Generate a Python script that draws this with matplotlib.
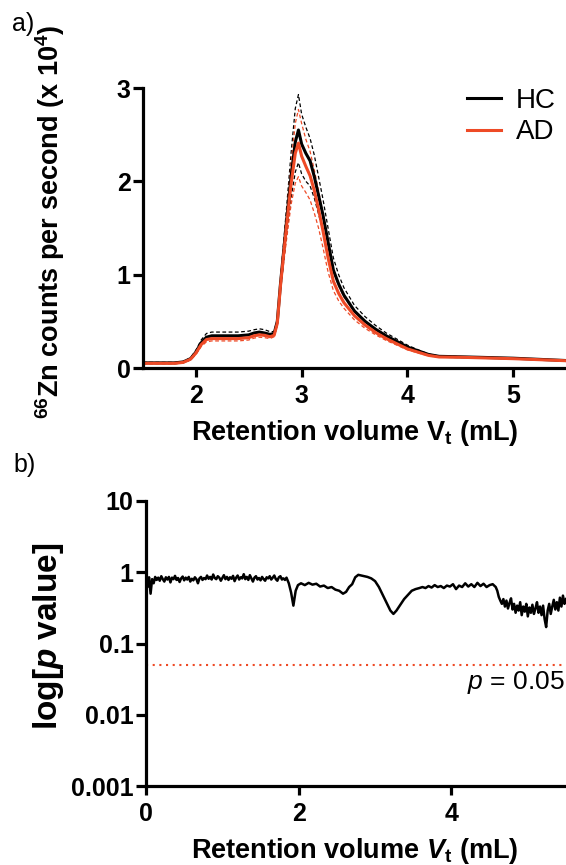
import matplotlib
matplotlib.use("Agg")
import matplotlib.pyplot as plt
from matplotlib.ticker import FixedLocator, NullLocator, FixedFormatter

plt.rcParams['font.family'] = ['Liberation Sans', 'DejaVu Sans']
plt.rcParams['mathtext.fontset'] = 'custom'
plt.rcParams['mathtext.rm'] = 'Liberation Sans'
plt.rcParams['mathtext.it'] = 'Liberation Sans:italic'
plt.rcParams['mathtext.bf'] = 'Liberation Sans:bold'
try:
    plt.rcParams['mathtext.bfit'] = 'Liberation Sans:italic:bold'
    HAS_BFIT = True
except KeyError:
    HAS_BFIT = False

RED = '#EE4A26'

# ---------------- Panel a data ----------------
vol_a = [1.5, 1.8, 1.88, 1.95, 2.0, 2.05, 2.1, 2.15, 2.25, 2.4, 2.5, 2.55, 2.6, 2.65,
         2.7, 2.74, 2.77, 2.8, 2.83, 2.86, 2.9, 2.94, 2.97, 3.0, 3.04, 3.08, 3.12,
         3.16, 3.2, 3.25, 3.3, 3.35, 3.4, 3.5, 3.6, 3.7, 3.8, 3.9, 4.0, 4.1, 4.2,
         4.3, 4.5, 5.0, 5.5]
hc_mean = [0.055, 0.055, 0.065, 0.10, 0.17, 0.27, 0.33, 0.345, 0.345, 0.345, 0.355,
           0.375, 0.385, 0.375, 0.36, 0.37, 0.50, 0.90, 1.25, 1.60, 2.05, 2.42, 2.55,
           2.40, 2.30, 2.22, 2.05, 1.85, 1.65, 1.35, 1.05, 0.90, 0.78, 0.61, 0.50,
           0.415, 0.345, 0.285, 0.225, 0.185, 0.145, 0.125, 0.12, 0.105, 0.08]
hc_upper = [0.06, 0.06, 0.07, 0.11, 0.19, 0.30, 0.37, 0.385, 0.385, 0.385, 0.395,
            0.41, 0.42, 0.41, 0.39, 0.39, 0.52, 0.95, 1.35, 1.75, 2.30, 2.78, 2.93,
            2.72, 2.58, 2.46, 2.28, 2.05, 1.82, 1.50, 1.18, 1.00, 0.86, 0.67, 0.55,
            0.455, 0.375, 0.31, 0.245, 0.195, 0.15, 0.128, 0.122, 0.107, 0.082]
hc_lower = [0.05, 0.05, 0.06, 0.09, 0.15, 0.24, 0.30, 0.315, 0.315, 0.315, 0.32,
            0.34, 0.35, 0.345, 0.33, 0.35, 0.48, 0.85, 1.15, 1.45, 1.82, 2.10, 2.20,
            2.08, 2.00, 1.95, 1.82, 1.65, 1.48, 1.20, 0.93, 0.80, 0.70, 0.555, 0.455,
            0.375, 0.315, 0.26, 0.205, 0.175, 0.14, 0.122, 0.118, 0.103, 0.078]
ad_mean = [0.05, 0.05, 0.06, 0.095, 0.16, 0.25, 0.305, 0.315, 0.315, 0.315, 0.325,
           0.345, 0.355, 0.35, 0.335, 0.35, 0.48, 0.88, 1.22, 1.55, 1.97, 2.30, 2.41,
           2.27, 2.16, 2.06, 1.90, 1.70, 1.48, 1.18, 0.93, 0.80, 0.70, 0.56, 0.46,
           0.38, 0.315, 0.26, 0.205, 0.17, 0.135, 0.118, 0.115, 0.10, 0.078]
ad_upper = [0.055, 0.055, 0.065, 0.10, 0.17, 0.27, 0.33, 0.34, 0.34, 0.34, 0.35,
            0.37, 0.38, 0.37, 0.355, 0.365, 0.50, 0.92, 1.30, 1.68, 2.18, 2.62, 2.77,
            2.62, 2.45, 2.32, 2.12, 1.90, 1.66, 1.32, 1.03, 0.88, 0.76, 0.605, 0.495,
            0.405, 0.335, 0.275, 0.215, 0.178, 0.14, 0.12, 0.117, 0.102, 0.08]
ad_lower = [0.045, 0.045, 0.055, 0.085, 0.145, 0.23, 0.28, 0.29, 0.29, 0.29, 0.30,
            0.32, 0.33, 0.325, 0.315, 0.335, 0.46, 0.84, 1.12, 1.40, 1.75, 1.98, 2.05,
            1.95, 1.88, 1.80, 1.66, 1.50, 1.30, 1.03, 0.83, 0.72, 0.64, 0.515, 0.425,
            0.355, 0.295, 0.245, 0.195, 0.162, 0.13, 0.115, 0.112, 0.098, 0.075]
xticks_a = [2, 3, 4, 5]
yticks_a = [0, 1, 2, 3]

# ---------------- Panel b data ----------------
vol_b = [0.00, 0.02, 0.04, 0.06, 0.08, 0.10, 0.12, 0.14, 0.16, 0.18, 0.20, 0.22, 0.24,
         0.26, 0.28, 0.30, 0.32, 0.34, 0.36, 0.38, 0.40, 0.42, 0.44, 0.46, 0.48, 0.50,
         0.52, 0.54, 0.56, 0.58, 0.60, 0.62, 0.64, 0.66, 0.68, 0.70, 0.72, 0.74, 0.76,
         0.78, 0.80, 0.82, 0.84, 0.86, 0.88, 0.90, 0.92, 0.94, 0.96, 0.98, 1.00, 1.02,
         1.04, 1.06, 1.08, 1.10, 1.12, 1.14, 1.16, 1.18, 1.20, 1.22, 1.24, 1.26, 1.28,
         1.30, 1.32, 1.34, 1.36, 1.38, 1.40, 1.42, 1.44, 1.46, 1.48, 1.50, 1.52, 1.54,
         1.56, 1.58, 1.60, 1.62, 1.64, 1.66, 1.68, 1.70, 1.72, 1.74, 1.76, 1.78, 1.80,
         1.82, 1.84, 1.87, 1.90, 1.93, 1.96, 1.99, 2.03, 2.08, 2.13, 2.18, 2.23, 2.28,
         2.33, 2.38, 2.43, 2.48, 2.53, 2.58, 2.62, 2.66, 2.70, 2.74, 2.78, 2.82, 2.86,
         2.90, 2.95, 3.00, 3.05, 3.10, 3.15, 3.20, 3.24, 3.28, 3.33, 3.38, 3.43, 3.48,
         3.53, 3.58, 3.62, 3.66, 3.70, 3.74, 3.78, 3.82, 3.86, 3.90, 3.94, 3.98, 4.02,
         4.06, 4.10, 4.14, 4.18, 4.22, 4.26, 4.30, 4.34, 4.38, 4.42, 4.46, 4.50, 4.54,
         4.58, 4.60, 4.62, 4.64, 4.66, 4.68, 4.70, 4.72, 4.74, 4.76, 4.78, 4.80, 4.82,
         4.84, 4.86, 4.88, 4.90, 4.92, 4.94, 4.96, 4.98, 5.00, 5.02, 5.04, 5.06, 5.08,
         5.10, 5.12, 5.14, 5.16, 5.18, 5.20, 5.22, 5.24, 5.26, 5.28, 5.30, 5.32, 5.34,
         5.36, 5.38, 5.40, 5.42, 5.44, 5.46, 5.48, 5.50]
p_value = [0.80, 0.62, 0.85, 0.50, 0.80, 0.70, 0.86, 0.78, 0.84, 0.76, 0.88, 0.80, 0.74,
           0.85, 0.79, 0.86, 0.72, 0.84, 0.80, 0.89, 0.78, 0.83, 0.73, 0.82, 0.87, 0.77,
           0.84, 0.79, 0.86, 0.74, 0.81, 0.77, 0.85, 0.80, 0.70, 0.82, 0.86, 0.78, 0.83,
           0.80, 0.90, 0.81, 0.86, 0.79, 0.93, 0.83, 0.80, 0.88, 0.84, 0.76, 0.83, 0.91,
           0.80, 0.86, 0.78, 0.85, 0.81, 0.89, 0.75, 0.84, 0.90, 0.79, 0.85, 0.82, 0.94,
           0.80, 0.86, 0.78, 0.91, 0.82, 0.74, 0.84, 0.88, 0.79, 0.83, 0.77, 0.86, 0.80,
           0.76, 0.85, 0.82, 0.88, 0.79, 0.84, 0.90, 0.80, 0.76, 0.85, 0.88, 0.79, 0.82,
           0.78, 0.84, 0.70, 0.52, 0.34, 0.55, 0.66, 0.70, 0.66, 0.71, 0.67, 0.69, 0.63,
           0.65, 0.60, 0.62, 0.57, 0.55, 0.50, 0.53, 0.62, 0.68, 0.85, 0.92, 0.90, 0.88,
           0.86, 0.82, 0.75, 0.62, 0.48, 0.37, 0.29, 0.26, 0.29, 0.35, 0.42, 0.48, 0.55,
           0.58, 0.60, 0.62, 0.60, 0.64, 0.61, 0.66, 0.62, 0.64, 0.60, 0.65, 0.63, 0.68,
           0.58, 0.65, 0.62, 0.70, 0.63, 0.68, 0.62, 0.71, 0.64, 0.69, 0.62, 0.66, 0.68,
           0.62, 0.55, 0.45, 0.40, 0.36, 0.42, 0.33, 0.40, 0.31, 0.37, 0.43, 0.30, 0.36,
           0.27, 0.34, 0.29, 0.38, 0.25, 0.33, 0.28, 0.36, 0.24, 0.32, 0.27, 0.35, 0.26,
           0.31, 0.38, 0.27, 0.33, 0.25, 0.34, 0.22, 0.17, 0.29, 0.36, 0.26, 0.33, 0.41,
           0.30, 0.38, 0.29, 0.44, 0.33, 0.47, 0.36, 0.42]
p_threshold = 0.05
xticks_b = [0, 2, 4]
yticks_b = [0.001, 0.01, 0.1, 1, 10]
yticklabels_b = ['0.001', '0.01', '0.1', '1', '10']

W, H = 566, 865
fig = plt.figure(figsize=(W / 100, H / 100), dpi=100)


def rect(l, t, r, b):
    return [l / W, 1 - b / H, (r - l) / W, (b - t) / H]


def style_axes(ax):
    for s in ['top', 'right']:
        ax.spines[s].set_visible(False)
    for s in ['left', 'bottom']:
        ax.spines[s].set_linewidth(2.3)
    ax.tick_params(axis='x', which='major', length=6.5, width=2.3, direction='out',
                   pad=5, labelsize=18)
    ax.tick_params(axis='y', which='major', length=7, width=2.3, direction='out',
                   pad=2, labelsize=18)
    for lab in ax.get_xticklabels() + ax.get_yticklabels():
        lab.set_fontweight('bold')


# ---------------- Panel a ----------------
axa = fig.add_axes(rect(143, 88, 566, 368))
axa.plot(vol_a, hc_upper, color='black', lw=0.9, ls=(0, (3, 2)))
axa.plot(vol_a, hc_lower, color='black', lw=0.9, ls=(0, (3, 2)))
axa.plot(vol_a, ad_upper, color=RED, lw=0.9, ls=(0, (3, 2)))
axa.plot(vol_a, ad_lower, color=RED, lw=0.9, ls=(0, (3, 2)))
l_hc, = axa.plot(vol_a, hc_mean, color='black', lw=2.2, label='HC')
l_ad, = axa.plot(vol_a, ad_mean, color=RED, lw=2.2, label='AD')
axa.set_xlim(1.5, 5.5)
axa.set_ylim(0, 3)
axa.set_xticks(xticks_a)
axa.set_yticks(yticks_a)
style_axes(axa)
axa.legend(handles=[l_hc, l_ad], loc='upper right', bbox_to_anchor=(1.035, 1.09),
           frameon=False, fontsize=20, handlelength=1.2, handletextpad=0.55,
           labelspacing=0.2)

fig.text(50 / W, 1 - 222 / H,
         r"$^{\mathbf{66}}$Zn counts per second (x 10$^{\mathbf{4}}$)",
         rotation=90, ha='center', va='center', fontsize=19.5, fontweight='bold')
fig.text(355 / W, 1 - 433 / H, r"Retention volume V$_{\mathbf{t}}$ (mL)",
         ha='center', va='center', fontsize=19.5, fontweight='bold')
fig.text(23 / W, 1 - 24 / H, "a)", ha='center', va='center', fontsize=18)

# ---------------- Panel b ----------------
axb = fig.add_axes(rect(146, 501, 566, 786))
axb.plot(vol_b, p_value, color='black', lw=1.8)
axb.axhline(p_threshold, color=RED, lw=1.5, ls=(0, (1, 2.2)))
axb.set_yscale('log')
axb.set_xlim(0, 5.5)
axb.set_ylim(0.001, 10)
axb.set_xticks(xticks_b)
axb.yaxis.set_major_locator(FixedLocator(yticks_b))
axb.yaxis.set_major_formatter(FixedFormatter(yticklabels_b))
axb.yaxis.set_minor_locator(NullLocator())
style_axes(axb)
axb.text(5.48, 0.028, r"$\mathit{p}$ = 0.05", ha='right', va='center', fontsize=19)

bfv = r"$\mathbfit{V}$" if HAS_BFIT else r"$\mathbf{V}$"
bfp = r"$\mathbfit{p}$" if HAS_BFIT else r"$\mathbf{p}$"
fig.text(48 / W, 1 - 636 / H, "log[" + bfp + " value]", rotation=90,
         ha='center', va='center', fontsize=24, fontweight='bold')
fig.text(355 / W, 1 - 851 / H,
         "Retention volume " + bfv + r"$_{\mathbf{t}}$ (mL)",
         ha='center', va='center', fontsize=19.5, fontweight='bold')
fig.text(25 / W, 1 - 465 / H, "b)", ha='center', va='center', fontsize=18)

fig.savefig("out.png", dpi=100)
